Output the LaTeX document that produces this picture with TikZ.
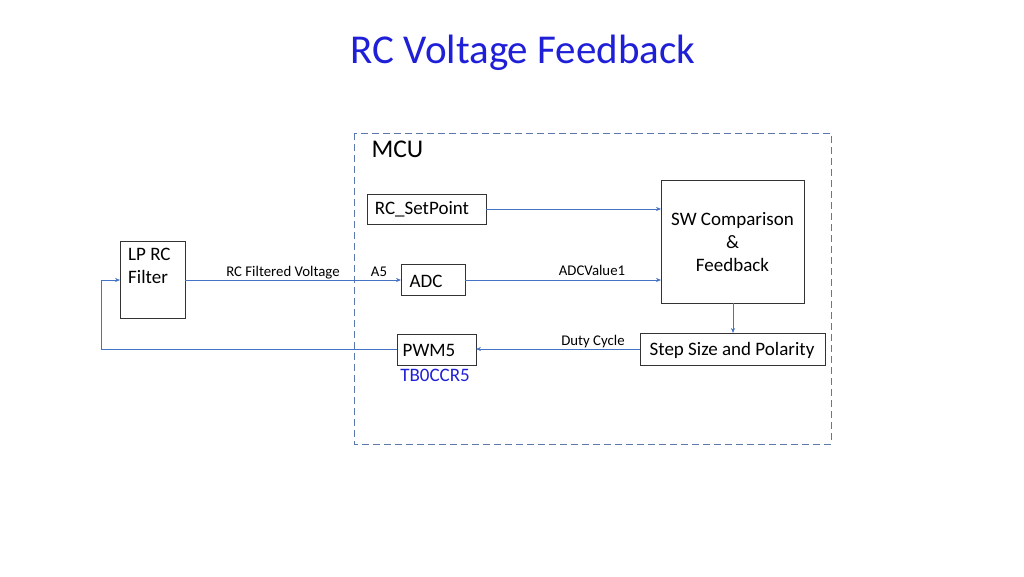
\documentclass[tikz,border=0pt]{standalone}
\usepackage{fontspec}
\setmainfont{Carlito}
\usetikzlibrary{arrows.meta}
\definecolor{ln}{HTML}{4472C4}
\definecolor{tb}{HTML}{1F1FD8}
\begin{document}
\begin{tikzpicture}[x=1pt,y=-1pt,
 box/.style={draw=black!80,line width=0.6pt,fill=white,inner sep=0},
 ar/.style={draw=ln,line width=0.6pt,-{Stealth[length=5pt,width=4pt]}},
 lab/.style={font=\fontsize{14.8}{17}\selectfont,anchor=base}]
\useasboundingbox (0,0) rectangle (1024,576);
\node[font=\fontsize{41}{45}\selectfont,text=tb] (title) at (523,53) {RC Voltage Feedback};
\draw[draw=ln!60!gray,dashed,line width=1pt,dash pattern=on 7pt off 4pt] (354,133) rectangle (831,444);
\node[anchor=west,font=\fontsize{25.5}{28}\selectfont] (mcu) at (368,149) {MCU};
\tikzset{t/.style={font=\fontsize{19}{23}\selectfont}}
\draw[box] (367,194) rectangle (486,224); \node[t] (sp) at (422,209) {RC\_SetPoint};
\coordinate (spr) at (486,209);
\draw[box] (661,180) rectangle (804,303);
\node[t,align=center] (sw) at (732.5,242) {SW Comparison\\\&\\Feedback};
\coordinate (swl1) at (661,209); \coordinate (swl2) at (661,280); \coordinate (swb) at (733,303);
\draw[box] (120,241) rectangle (185,318);
\node[t,align=left,anchor=north west,inner sep=0] (lp) at (128,248) {LP RC\\Filter};
\coordinate (lpr) at (185,280); \coordinate (lpl) at (120,280);
\draw[box] (401,264) rectangle (465,295); \node[t] (adc) at (426,281) {ADC};
\coordinate (adcl) at (401,280); \coordinate (adcr) at (465,280);
\draw[box] (397,334) rectangle (476,365); \node[t] (pwm) at (429,350) {PWM5};
\coordinate (pwml) at (397,349); \coordinate (pwmr) at (476,349);
\draw[box] (640,333) rectangle (825,365); \node[t] (st) at (732,350) {Step Size and Polarity};
\coordinate (stl) at (640,349); \coordinate (stt) at (733,333);
\node[t,text=tb] (tbc) at (435,375) {TB0CCR5};
\draw[ar] (spr) -- (swl1);
\draw[ar] (lpr) -- (adcl);
\draw[ar] (adcr) -- (swl2);
\draw[ar] (swb) -- (stt);
\draw[ar] (stl) -- (pwmr);
\draw[ar] (pwml) -- (101,349) -- (101,280) -- (lpl);
\node[lab] (l1) at (283,276) {RC Filtered Voltage};
\node[lab] (l2) at (379,276) {A5};
\node[lab] (l3) at (592,275) {ADCValue1};
\node[lab] (l4) at (593,345) {Duty Cycle};
\end{tikzpicture}
\end{document}
